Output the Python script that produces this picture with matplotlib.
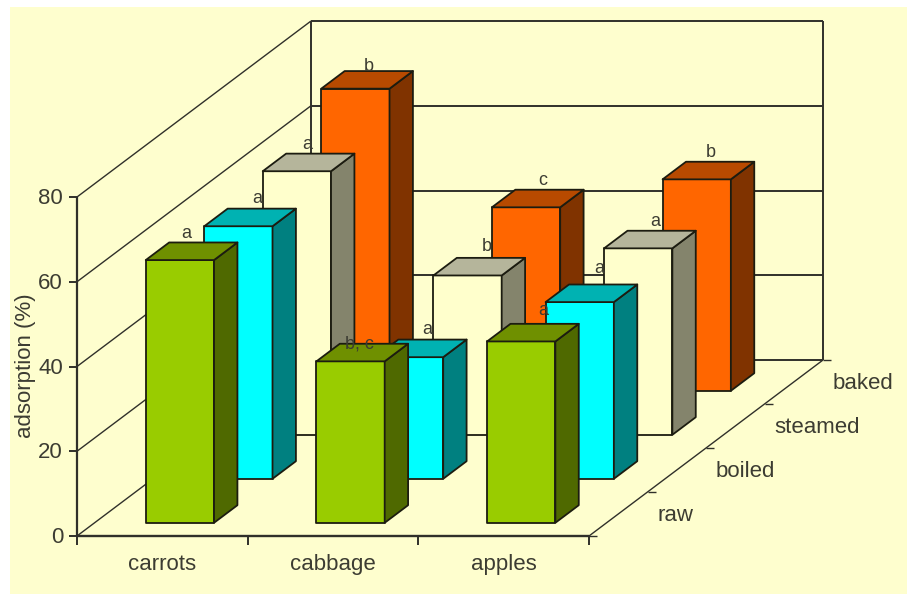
#!/usr/bin/env python
import matplotlib as mpl
mpl.use('Agg')
import matplotlib.pyplot as plt
from matplotlib.patches import Polygon, Rectangle

foods = ['carrots', 'cabbage', 'apples']
methods = ['raw', 'boiled', 'steamed', 'baked']
yticks = [0, 20, 40, 60, 80]

raw = [62.0, 38.1, 42.8]
boiled = [59.6, 28.7, 41.7]
steamed = [62.2, 37.6, 44.0]
baked = [71.3, 43.3, 49.9]

raw_sig = ['a', 'b, c', 'a']
boiled_sig = ['a', 'a', 'a']
steamed_sig = ['a', 'b', 'a']
baked_sig = ['b', 'c', 'b']

series = [raw, boiled, steamed, baked]
signif = [raw_sig, boiled_sig, steamed_sig, baked_sig]

# front, top, side shades per series
colors = [('#99CC00', '#6F9000', '#4F6900'),
          ('#00FFFF', '#00B2B2', '#008080'),
          ('#FFFFCC', '#B5B59B', '#84846C'),
          ('#FF6600', '#B84A00', '#803300')]

BG = '#FEFECE'
LINE = '#30302A'
EDGE = '#1C1C10'
TXT = '#3C3C32'

# oblique projection of the box, in figure pixels
X0, Y0 = 77.0, 536.0
CATW = 170.67
DX, DY = 234.0, -176.0
YSCALE = 339.0 / 80
GAPFRAC = 0.4
FS = 16
LABELFS = 13
FONT = ['Liberation Sans']

# shifts (px) of the significance letters from the back top edge of each bar
label_dx = [[-17, -15, -1], [-5, -5.5, -4], [-13, -4, -6], [-10, -6.5, -9]]
label_dy = [[-4, 5, -9], [-6, -6, -11], [-5, -7, -5], [0, -5, -5]]


def proj(cat, depth, val):
    return (X0 + cat * CATW + depth * DX, Y0 + depth * DY - val * YSCALE)


fig = plt.figure(figsize=(9.07, 5.94), dpi=100, facecolor='white')
ax = fig.add_axes([0, 0, 1, 1])
ax.set_xlim(0, 907)
ax.set_ylim(594, 0)
ax.axis('off')
ax.add_patch(Rectangle((10, 7), 897, 587, fc=BG, ec='none', zorder=0))


def seg(p, q, lw=1.4, color=LINE, z=1):
    ax.plot([p[0], q[0]], [p[1], q[1]], color=color, lw=lw, zorder=z,
            solid_capstyle='butt')


# walls and gridlines
for v in yticks:
    seg(proj(0, 0, v), proj(0, 1, v), lw=1.0)
    seg(proj(0, 1, v), proj(3, 1, v))
seg(proj(0, 1, 0), proj(0, 1, 80))
seg(proj(3, 1, 0), proj(3, 1, 80))
seg(proj(3, 0, 0), proj(3, 1, 0), lw=1.0)

# bars, back row first
z = 2
n = len(series)
for j in range(n - 1, -1, -1):
    front, top, side = colors[j]
    for i, v in enumerate(series[j]):
        c0 = i + (1 - GAPFRAC) / 2
        c1 = c0 + GAPFRAC
        d0 = (j + (1 - GAPFRAC) / 2) / n
        d1 = d0 + GAPFRAC / n
        faces = [
            (front, [proj(c0, d0, 0), proj(c1, d0, 0), proj(c1, d0, v), proj(c0, d0, v)]),
            (side, [proj(c1, d0, 0), proj(c1, d1, 0), proj(c1, d1, v), proj(c1, d0, v)]),
            (top, [proj(c0, d0, v), proj(c1, d0, v), proj(c1, d1, v), proj(c0, d1, v)]),
        ]
        for col, pts in faces:
            ax.add_patch(Polygon(pts, closed=True, fc=col, ec=EDGE, lw=1.3,
                                 joinstyle='round', zorder=z))
    z += 1

# front axes, ticks
seg(proj(0, 0, 0), proj(3, 0, 0), lw=1.7, z=20)
seg(proj(0, 0, 0), proj(0, 0, 80), lw=1.6, z=1)
for v in yticks:
    x, y = proj(0, 0, v)
    seg((x - 8, y), (x, y), lw=1.4, z=20)
    ax.text(x - 14, y + 7, str(v), ha='right', va='baseline', fontsize=FS,
            family=FONT, color=TXT, zorder=30)
for i in range(len(foods) + 1):
    x, y = proj(i, 0, 0)
    seg((x, y), (x, y + 9), lw=1.4, z=20)
for i, name in enumerate(foods):
    x, y = proj(i + 0.5, 0, 0)
    ax.text(x, y + 34, name, ha='center', va='baseline', fontsize=FS,
            family=FONT, color=TXT, zorder=30)
for j in range(n + 1):
    x, y = proj(3, j / n, 0)
    seg((x, y), (x + 8, y), lw=1.0, z=20)
for j, name in enumerate(methods):
    x, y = proj(3, (j + 0.5) / n, 0)
    ax.text(x + 39, y + 7, name, ha='left', va='baseline', fontsize=FS,
            family=FONT, color=TXT, zorder=30)

ax.text(25, 366, 'adsorption (%)', rotation=90, ha='center', va='center',
        fontsize=FS, family=FONT, color=TXT, zorder=30)

# significance letters above the bars
for j in range(n):
    for i, s in enumerate(signif[j]):
        c = i + 0.5
        d = (j + 0.5 + GAPFRAC / 2) / n
        x, y = proj(c, d, series[j][i])
        ax.text(x + label_dx[j][i], y + label_dy[j][i], s, ha='center',
                va='baseline', fontsize=LABELFS, family=FONT, color=TXT, zorder=31)

fig.savefig('out.png', dpi=100, facecolor='white')
